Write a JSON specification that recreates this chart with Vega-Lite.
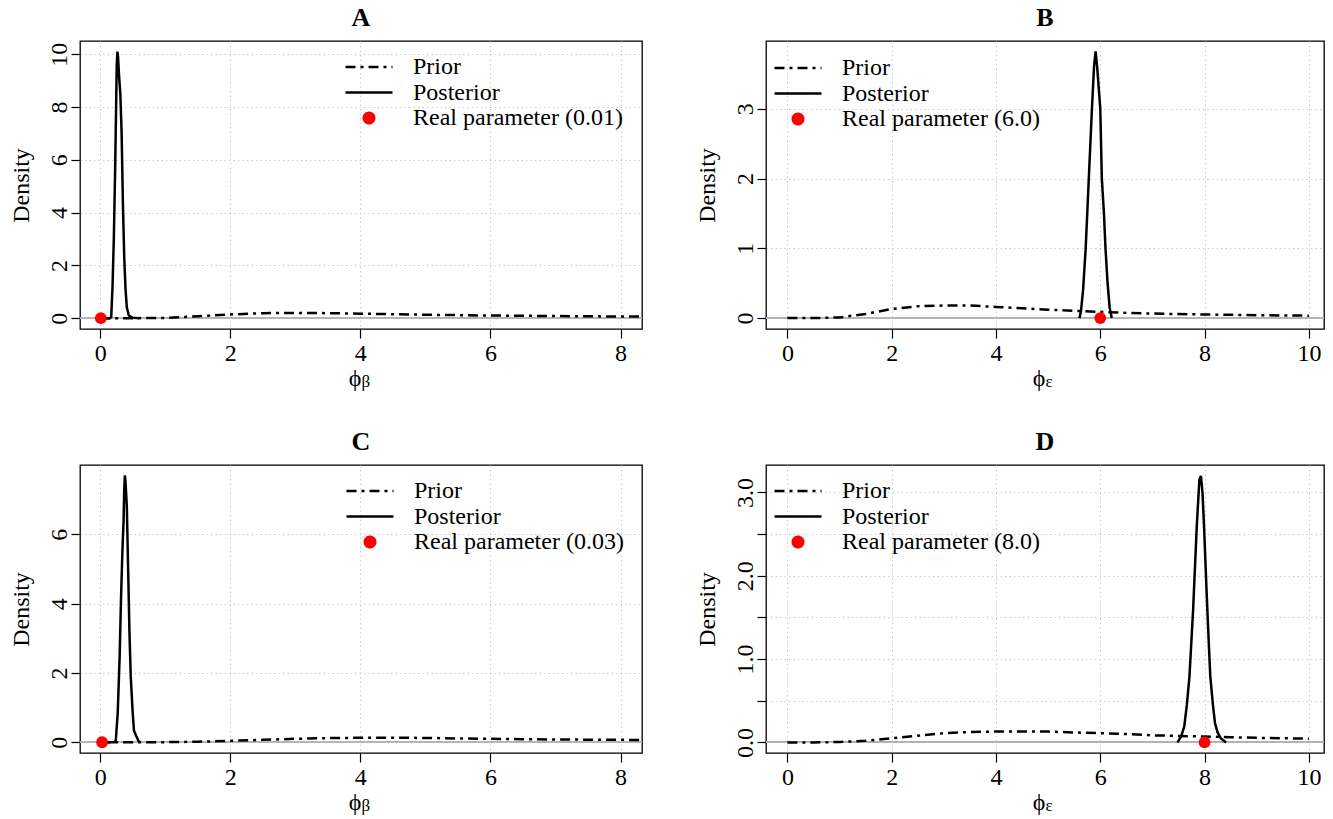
{
  "$schema": "https://vega.github.io/schema/vega-lite/v6.json",
  "padding": {"left": 8, "top": 4, "right": 0, "bottom": 0},
  "background": "white",
  "config": {
    "font": "Liberation Serif",
    "view": {"stroke": "black", "strokeWidth": 1.3},
    "axis": {
      "labelFont": "Liberation Serif", "labelFontSize": 24, "labelColor": "black",
      "titleFont": "Liberation Serif", "titleFontSize": 24, "titleFontWeight": "normal", "titleColor": "black",
      "tickColor": "black", "tickSize": 9, "tickWidth": 1.2, "domain": false,
      "gridColor": "#cccccc", "gridDash": [1.5, 3], "gridWidth": 1, "labelPadding": 3
    },
    "axisY": {"labelAngle": 270, "labelAlign": "center", "labelBaseline": "alphabetic", "labelPadding": 5, "titlePadding": 14},
    "title": {"font": "Liberation Serif", "fontSize": 26, "fontWeight": "bold", "color": "black", "frame": "group", "anchor": "middle", "offset": 10},
    "legend": {"title": null, "orient": "none", "padding": 0, "labelFont": "Liberation Serif", "labelFontSize": 24, "labelColor": "black", "labelOffset": 32, "rowPadding": 1.5, "symbolSize": 100, "labelLimit": 0}
  },
  "datasets": {
    "curves": [
      {"p":"A","s":"Prior","x":0,"y":0},{"p":"A","s":"Prior","x":0.5,"y":0},{"p":"A","s":"Prior","x":1,"y":0.01},{"p":"A","s":"Prior","x":1.5,"y":0.07},{"p":"A","s":"Prior","x":2,"y":0.14},{"p":"A","s":"Prior","x":2.5,"y":0.19},{"p":"A","s":"Prior","x":3,"y":0.2},{"p":"A","s":"Prior","x":3.5,"y":0.19},{"p":"A","s":"Prior","x":4,"y":0.17},{"p":"A","s":"Prior","x":4.5,"y":0.15},{"p":"A","s":"Prior","x":5,"y":0.13},{"p":"A","s":"Prior","x":5.5,"y":0.115},{"p":"A","s":"Prior","x":6,"y":0.1},{"p":"A","s":"Prior","x":6.5,"y":0.09},{"p":"A","s":"Prior","x":7,"y":0.08},{"p":"A","s":"Prior","x":7.5,"y":0.07},{"p":"A","s":"Prior","x":8,"y":0.065},{"p":"A","s":"Prior","x":8.5,"y":0.06},
      {"p":"A","s":"Posterior","x":0.05,"y":0},{"p":"A","s":"Posterior","x":0.15,"y":0},{"p":"A","s":"Posterior","x":0.17,"y":0.05},{"p":"A","s":"Posterior","x":0.19,"y":1.2},{"p":"A","s":"Posterior","x":0.21,"y":3.0},{"p":"A","s":"Posterior","x":0.23,"y":5.6},{"p":"A","s":"Posterior","x":0.245,"y":8.0},{"p":"A","s":"Posterior","x":0.255,"y":9.6},{"p":"A","s":"Posterior","x":0.265,"y":10.1},{"p":"A","s":"Posterior","x":0.275,"y":9.9},{"p":"A","s":"Posterior","x":0.29,"y":9.2},{"p":"A","s":"Posterior","x":0.31,"y":8.5},{"p":"A","s":"Posterior","x":0.33,"y":7.0},{"p":"A","s":"Posterior","x":0.35,"y":4.3},{"p":"A","s":"Posterior","x":0.37,"y":2.3},{"p":"A","s":"Posterior","x":0.39,"y":1.1},{"p":"A","s":"Posterior","x":0.41,"y":0.4},{"p":"A","s":"Posterior","x":0.44,"y":0.1},{"p":"A","s":"Posterior","x":0.5,"y":0.02},{"p":"A","s":"Posterior","x":0.6,"y":0},
      {"p":"A","s":"Real parameter (0.01)","x":0.01,"y":0},
      {"p":"B","s":"Prior","x":0,"y":0},{"p":"B","s":"Prior","x":0.5,"y":0},{"p":"B","s":"Prior","x":1,"y":0.01},{"p":"B","s":"Prior","x":1.5,"y":0.06},{"p":"B","s":"Prior","x":2,"y":0.13},{"p":"B","s":"Prior","x":2.5,"y":0.17},{"p":"B","s":"Prior","x":3,"y":0.18},{"p":"B","s":"Prior","x":3.5,"y":0.18},{"p":"B","s":"Prior","x":4,"y":0.16},{"p":"B","s":"Prior","x":4.5,"y":0.14},{"p":"B","s":"Prior","x":5,"y":0.12},{"p":"B","s":"Prior","x":5.5,"y":0.105},{"p":"B","s":"Prior","x":6,"y":0.09},{"p":"B","s":"Prior","x":6.5,"y":0.075},{"p":"B","s":"Prior","x":7,"y":0.065},{"p":"B","s":"Prior","x":7.5,"y":0.058},{"p":"B","s":"Prior","x":8,"y":0.052},{"p":"B","s":"Prior","x":8.5,"y":0.047},{"p":"B","s":"Prior","x":9,"y":0.042},{"p":"B","s":"Prior","x":9.5,"y":0.038},{"p":"B","s":"Prior","x":10,"y":0.035},
      {"p":"B","s":"Posterior","x":5.6,"y":0},{"p":"B","s":"Posterior","x":5.63,"y":0.1},{"p":"B","s":"Posterior","x":5.67,"y":0.4},{"p":"B","s":"Posterior","x":5.72,"y":1.0},{"p":"B","s":"Posterior","x":5.78,"y":2.0},{"p":"B","s":"Posterior","x":5.84,"y":3.0},{"p":"B","s":"Posterior","x":5.88,"y":3.6},{"p":"B","s":"Posterior","x":5.91,"y":3.82},{"p":"B","s":"Posterior","x":5.94,"y":3.6},{"p":"B","s":"Posterior","x":6.0,"y":3.0},{"p":"B","s":"Posterior","x":6.03,"y":2.0},{"p":"B","s":"Posterior","x":6.07,"y":1.5},{"p":"B","s":"Posterior","x":6.1,"y":1.0},{"p":"B","s":"Posterior","x":6.14,"y":0.5},{"p":"B","s":"Posterior","x":6.18,"y":0.15},{"p":"B","s":"Posterior","x":6.22,"y":0},
      {"p":"B","s":"Real parameter (6.0)","x":6.0,"y":0},
      {"p":"C","s":"Prior","x":0,"y":0},{"p":"C","s":"Prior","x":0.5,"y":0},{"p":"C","s":"Prior","x":1,"y":0.003},{"p":"C","s":"Prior","x":1.5,"y":0.015},{"p":"C","s":"Prior","x":2,"y":0.04},{"p":"C","s":"Prior","x":2.5,"y":0.07},{"p":"C","s":"Prior","x":3,"y":0.1},{"p":"C","s":"Prior","x":3.5,"y":0.12},{"p":"C","s":"Prior","x":4,"y":0.13},{"p":"C","s":"Prior","x":4.5,"y":0.13},{"p":"C","s":"Prior","x":5,"y":0.125},{"p":"C","s":"Prior","x":5.5,"y":0.11},{"p":"C","s":"Prior","x":6,"y":0.1},{"p":"C","s":"Prior","x":6.5,"y":0.09},{"p":"C","s":"Prior","x":7,"y":0.08},{"p":"C","s":"Prior","x":7.5,"y":0.075},{"p":"C","s":"Prior","x":8,"y":0.07},{"p":"C","s":"Prior","x":8.5,"y":0.065},
      {"p":"C","s":"Posterior","x":0.05,"y":0},{"p":"C","s":"Posterior","x":0.22,"y":0},{"p":"C","s":"Posterior","x":0.24,"y":0.05},{"p":"C","s":"Posterior","x":0.27,"y":0.85},{"p":"C","s":"Posterior","x":0.3,"y":2.5},{"p":"C","s":"Posterior","x":0.32,"y":4.1},{"p":"C","s":"Posterior","x":0.34,"y":5.4},{"p":"C","s":"Posterior","x":0.36,"y":6.4},{"p":"C","s":"Posterior","x":0.37,"y":7.3},{"p":"C","s":"Posterior","x":0.38,"y":7.7},{"p":"C","s":"Posterior","x":0.39,"y":7.5},{"p":"C","s":"Posterior","x":0.41,"y":6.8},{"p":"C","s":"Posterior","x":0.43,"y":5.0},{"p":"C","s":"Posterior","x":0.45,"y":3.2},{"p":"C","s":"Posterior","x":0.47,"y":1.9},{"p":"C","s":"Posterior","x":0.5,"y":0.85},{"p":"C","s":"Posterior","x":0.52,"y":0.33},{"p":"C","s":"Posterior","x":0.55,"y":0.2},{"p":"C","s":"Posterior","x":0.59,"y":0.03},{"p":"C","s":"Posterior","x":0.62,"y":0},
      {"p":"C","s":"Real parameter (0.03)","x":0.03,"y":0},
      {"p":"D","s":"Prior","x":0,"y":0},{"p":"D","s":"Prior","x":0.5,"y":0},{"p":"D","s":"Prior","x":1,"y":0.005},{"p":"D","s":"Prior","x":1.5,"y":0.02},{"p":"D","s":"Prior","x":2,"y":0.05},{"p":"D","s":"Prior","x":2.5,"y":0.08},{"p":"D","s":"Prior","x":3,"y":0.11},{"p":"D","s":"Prior","x":3.5,"y":0.125},{"p":"D","s":"Prior","x":4,"y":0.13},{"p":"D","s":"Prior","x":4.5,"y":0.13},{"p":"D","s":"Prior","x":5,"y":0.13},{"p":"D","s":"Prior","x":5.5,"y":0.12},{"p":"D","s":"Prior","x":6,"y":0.11},{"p":"D","s":"Prior","x":6.5,"y":0.1},{"p":"D","s":"Prior","x":7,"y":0.085},{"p":"D","s":"Prior","x":7.5,"y":0.078},{"p":"D","s":"Prior","x":8,"y":0.07},{"p":"D","s":"Prior","x":8.5,"y":0.063},{"p":"D","s":"Prior","x":9,"y":0.055},{"p":"D","s":"Prior","x":9.5,"y":0.05},{"p":"D","s":"Prior","x":10,"y":0.045},
      {"p":"D","s":"Posterior","x":7.48,"y":0},{"p":"D","s":"Posterior","x":7.55,"y":0.07},{"p":"D","s":"Posterior","x":7.61,"y":0.19},{"p":"D","s":"Posterior","x":7.66,"y":0.45},{"p":"D","s":"Posterior","x":7.71,"y":0.79},{"p":"D","s":"Posterior","x":7.78,"y":1.59},{"p":"D","s":"Posterior","x":7.85,"y":2.59},{"p":"D","s":"Posterior","x":7.9,"y":3.15},{"p":"D","s":"Posterior","x":7.93,"y":3.2},{"p":"D","s":"Posterior","x":7.96,"y":3.0},{"p":"D","s":"Posterior","x":7.99,"y":2.59},{"p":"D","s":"Posterior","x":8.04,"y":1.79},{"p":"D","s":"Posterior","x":8.08,"y":1.2},{"p":"D","s":"Posterior","x":8.11,"y":0.79},{"p":"D","s":"Posterior","x":8.16,"y":0.45},{"p":"D","s":"Posterior","x":8.2,"y":0.23},{"p":"D","s":"Posterior","x":8.25,"y":0.12},{"p":"D","s":"Posterior","x":8.31,"y":0.05},{"p":"D","s":"Posterior","x":8.41,"y":0},
      {"p":"D","s":"Real parameter (8.0)","x":8.0,"y":0}
    ]
  },
  "spacing": 37,
  "resolve": {"scale": {"x": "independent", "y": "independent", "color": "independent"}, "axis": {"x": "independent", "y": "independent"}, "legend": {"color": "independent"}},
  "vconcat": [
    {
      "spacing": 50,
      "resolve": {"scale": {"x": "independent", "y": "independent", "color": "independent"}, "axis": {"x": "independent", "y": "independent"}, "legend": {"color": "independent"}},
      "hconcat": [
        {
          "title": {"text": "A"},
          "width": 562, "height": 288,
          "data": {"name": "curves"},
          "transform": [{"filter": "datum.p == 'A'"}],
          "resolve": {"axis": {"x": "independent"}},
          "layer": [
            {"mark": {"type": "rule", "color": "#b5b5b5", "strokeWidth": 1},
             "encoding": {"y": {"datum": 0, "type": "quantitative", "scale": {"domain": [-0.41, 10.5], "nice": false, "zero": false}, "axis": {"title": "Density", "values": [0, 2, 4, 6, 8, 10], "grid": true}}}},
            {"transform": [{"filter": "datum.s == 'Prior'"}],
             "mark": {"type": "line", "strokeWidth": 2.5, "strokeDash": [10, 5, 3, 5], "clip": true},
             "encoding": {
               "x": {"field": "x", "type": "quantitative", "scale": {"domain": [-0.31, 8.33], "nice": false, "zero": false}, "axis": {"orient": "bottom", "title": "ϕ", "titleAlign": "right", "titlePadding": 1, "values": [0, 2, 4, 6, 8], "grid": true}},
               "y": {"field": "y", "type": "quantitative", "axis": {"title": "Density", "values": [0, 2, 4, 6, 8, 10], "grid": true}},
               "color": {"field": "s", "type": "nominal", "scale": {"domain": ["Prior", "Posterior", "Real parameter (0.01)"], "range": ["black", "black", "red"]},
                 "legend": {"legendX": 277, "legendY": 14, "encode": {"symbols": {"update": {
                   "shape": {"signal": "datum.value == 'Prior' || datum.value == 'Posterior' ? 'M-1,0H1' : 'circle'"},
                   "size": {"signal": "datum.value == 'Prior' || datum.value == 'Posterior' ? 2209 : 110"},
                   "stroke": {"signal": "datum.value == 'Prior' || datum.value == 'Posterior' ? 'black' : 'transparent'"},
                   "fill": {"signal": "datum.value == 'Prior' || datum.value == 'Posterior' ? 'transparent' : 'red'"},
                   "strokeWidth": {"value": 2.5},
                   "strokeDash": {"signal": "datum.value == 'Prior' ? [10, 5, 3, 5] : [1, 0]"},
                   "opacity": {"value": 1}}}}}}
             }},
            {"transform": [{"filter": "datum.s == 'Posterior'"}],
             "mark": {"type": "line", "strokeWidth": 2.5, "clip": true},
             "encoding": {
               "x": {"field": "x", "type": "quantitative", "axis": null},
               "y": {"field": "y", "type": "quantitative"},
               "color": {"field": "s", "type": "nominal"}
             }},
            {"transform": [{"filter": "datum.s != 'Prior' && datum.s != 'Posterior'"}],
             "mark": {"type": "point", "filled": true, "size": 140, "opacity": 1, "strokeWidth": 0, "clip": false},
             "encoding": {
               "x": {"field": "x", "type": "quantitative", "axis": {"orient": "bottom", "title": "β", "titleAlign": "left", "titleFontSize": 17, "titlePadding": 44, "labels": false, "ticks": false, "grid": false, "domain": false}},
               "y": {"field": "y", "type": "quantitative"},
               "color": {"field": "s", "type": "nominal"}
             }}
          ]
        },
        {
          "title": {"text": "B"},
          "width": 558, "height": 288,
          "data": {"name": "curves"},
          "transform": [{"filter": "datum.p == 'B'"}],
          "resolve": {"axis": {"x": "independent"}},
          "layer": [
            {"mark": {"type": "rule", "color": "#b5b5b5", "strokeWidth": 1},
             "encoding": {"y": {"datum": 0, "type": "quantitative", "scale": {"domain": [-0.156, 3.97], "nice": false, "zero": false}, "axis": {"title": "Density", "values": [0, 1, 2, 3], "format": "d", "grid": true}}}},
            {"transform": [{"filter": "datum.s == 'Prior'"}],
             "mark": {"type": "line", "strokeWidth": 2.5, "strokeDash": [10, 5, 3, 5], "clip": true},
             "encoding": {
               "x": {"field": "x", "type": "quantitative", "scale": {"domain": [-0.41, 10.29], "nice": false, "zero": false}, "axis": {"orient": "bottom", "title": "ϕ", "titleAlign": "right", "titlePadding": 1, "values": [0, 2, 4, 6, 8, 10], "grid": true}},
               "y": {"field": "y", "type": "quantitative", "axis": {"title": "Density", "values": [0, 1, 2, 3], "format": "d", "grid": true}},
               "color": {"field": "s", "type": "nominal", "scale": {"domain": ["Prior", "Posterior", "Real parameter (6.0)"], "range": ["black", "black", "red"]},
                 "legend": {"legendX": 20, "legendY": 15, "encode": {"symbols": {"update": {
                   "shape": {"signal": "datum.value == 'Prior' || datum.value == 'Posterior' ? 'M-1,0H1' : 'circle'"},
                   "size": {"signal": "datum.value == 'Prior' || datum.value == 'Posterior' ? 2209 : 110"},
                   "stroke": {"signal": "datum.value == 'Prior' || datum.value == 'Posterior' ? 'black' : 'transparent'"},
                   "fill": {"signal": "datum.value == 'Prior' || datum.value == 'Posterior' ? 'transparent' : 'red'"},
                   "strokeWidth": {"value": 2.5},
                   "strokeDash": {"signal": "datum.value == 'Prior' ? [10, 5, 3, 5] : [1, 0]"},
                   "opacity": {"value": 1}}}}}}
             }},
            {"transform": [{"filter": "datum.s == 'Posterior'"}],
             "mark": {"type": "line", "strokeWidth": 2.5, "clip": true},
             "encoding": {
               "x": {"field": "x", "type": "quantitative", "axis": null},
               "y": {"field": "y", "type": "quantitative"},
               "color": {"field": "s", "type": "nominal"}
             }},
            {"transform": [{"filter": "datum.s != 'Prior' && datum.s != 'Posterior'"}],
             "mark": {"type": "point", "filled": true, "size": 140, "opacity": 1, "strokeWidth": 0, "clip": false},
             "encoding": {
               "x": {"field": "x", "type": "quantitative", "axis": {"orient": "bottom", "title": "ε", "titleAlign": "left", "titleFontSize": 17, "titlePadding": 44, "labels": false, "ticks": false, "grid": false, "domain": false}},
               "y": {"field": "y", "type": "quantitative"},
               "color": {"field": "s", "type": "nominal"}
             }}
          ]
        }
      ]
    },
    {
      "spacing": 50,
      "resolve": {"scale": {"x": "independent", "y": "independent", "color": "independent"}, "axis": {"x": "independent", "y": "independent"}, "legend": {"color": "independent"}},
      "hconcat": [
        {
          "title": {"text": "C"},
          "width": 562, "height": 288,
          "data": {"name": "curves"},
          "transform": [{"filter": "datum.p == 'C'"}],
          "resolve": {"axis": {"x": "independent"}},
          "layer": [
            {"mark": {"type": "rule", "color": "#b5b5b5", "strokeWidth": 1},
             "encoding": {"y": {"datum": 0, "type": "quantitative", "scale": {"domain": [-0.31, 8.0], "nice": false, "zero": false}, "axis": {"title": "Density", "values": [0, 2, 4, 6], "format": "d", "grid": true}}}},
            {"transform": [{"filter": "datum.s == 'Prior'"}],
             "mark": {"type": "line", "strokeWidth": 2.5, "strokeDash": [10, 5, 3, 5], "clip": true},
             "encoding": {
               "x": {"field": "x", "type": "quantitative", "scale": {"domain": [-0.31, 8.33], "nice": false, "zero": false}, "axis": {"orient": "bottom", "title": "ϕ", "titleAlign": "right", "titlePadding": 1, "values": [0, 2, 4, 6, 8], "grid": true}},
               "y": {"field": "y", "type": "quantitative", "axis": {"title": "Density", "values": [0, 2, 4, 6], "format": "d", "grid": true}},
               "color": {"field": "s", "type": "nominal", "scale": {"domain": ["Prior", "Posterior", "Real parameter (0.03)"], "range": ["black", "black", "red"]},
                 "legend": {"legendX": 278, "legendY": 14, "encode": {"symbols": {"update": {
                   "shape": {"signal": "datum.value == 'Prior' || datum.value == 'Posterior' ? 'M-1,0H1' : 'circle'"},
                   "size": {"signal": "datum.value == 'Prior' || datum.value == 'Posterior' ? 2209 : 110"},
                   "stroke": {"signal": "datum.value == 'Prior' || datum.value == 'Posterior' ? 'black' : 'transparent'"},
                   "fill": {"signal": "datum.value == 'Prior' || datum.value == 'Posterior' ? 'transparent' : 'red'"},
                   "strokeWidth": {"value": 2.5},
                   "strokeDash": {"signal": "datum.value == 'Prior' ? [10, 5, 3, 5] : [1, 0]"},
                   "opacity": {"value": 1}}}}}}
             }},
            {"transform": [{"filter": "datum.s == 'Posterior'"}],
             "mark": {"type": "line", "strokeWidth": 2.5, "clip": true},
             "encoding": {
               "x": {"field": "x", "type": "quantitative", "axis": null},
               "y": {"field": "y", "type": "quantitative"},
               "color": {"field": "s", "type": "nominal"}
             }},
            {"transform": [{"filter": "datum.s != 'Prior' && datum.s != 'Posterior'"}],
             "mark": {"type": "point", "filled": true, "size": 140, "opacity": 1, "strokeWidth": 0, "clip": false},
             "encoding": {
               "x": {"field": "x", "type": "quantitative", "axis": {"orient": "bottom", "title": "β", "titleAlign": "left", "titleFontSize": 17, "titlePadding": 44, "labels": false, "ticks": false, "grid": false, "domain": false}},
               "y": {"field": "y", "type": "quantitative"},
               "color": {"field": "s", "type": "nominal"}
             }}
          ]
        },
        {
          "title": {"text": "D"},
          "width": 558, "height": 288,
          "data": {"name": "curves"},
          "transform": [{"filter": "datum.p == 'D'"}],
          "resolve": {"axis": {"x": "independent"}},
          "layer": [
            {"mark": {"type": "rule", "color": "#b5b5b5", "strokeWidth": 1},
             "encoding": {"y": {"datum": 0, "type": "quantitative", "scale": {"domain": [-0.127, 3.33], "nice": false, "zero": false}, "axis": {"title": "Density", "values": [0, 0.5, 1, 1.5, 2, 2.5, 3], "format": ".1f", "labelExpr": "datum.value % 1 == 0 ? datum.label : ''", "grid": true}}}},
            {"transform": [{"filter": "datum.s == 'Prior'"}],
             "mark": {"type": "line", "strokeWidth": 2.5, "strokeDash": [10, 5, 3, 5], "clip": true},
             "encoding": {
               "x": {"field": "x", "type": "quantitative", "scale": {"domain": [-0.41, 10.29], "nice": false, "zero": false}, "axis": {"orient": "bottom", "title": "ϕ", "titleAlign": "right", "titlePadding": 1, "values": [0, 2, 4, 6, 8, 10], "grid": true}},
               "y": {"field": "y", "type": "quantitative", "axis": {"title": "Density", "values": [0, 0.5, 1, 1.5, 2, 2.5, 3], "format": ".1f", "labelExpr": "datum.value % 1 == 0 ? datum.label : ''", "grid": true}},
               "color": {"field": "s", "type": "nominal", "scale": {"domain": ["Prior", "Posterior", "Real parameter (8.0)"], "range": ["black", "black", "red"]},
                 "legend": {"legendX": 20, "legendY": 14, "encode": {"symbols": {"update": {
                   "shape": {"signal": "datum.value == 'Prior' || datum.value == 'Posterior' ? 'M-1,0H1' : 'circle'"},
                   "size": {"signal": "datum.value == 'Prior' || datum.value == 'Posterior' ? 2209 : 110"},
                   "stroke": {"signal": "datum.value == 'Prior' || datum.value == 'Posterior' ? 'black' : 'transparent'"},
                   "fill": {"signal": "datum.value == 'Prior' || datum.value == 'Posterior' ? 'transparent' : 'red'"},
                   "strokeWidth": {"value": 2.5},
                   "strokeDash": {"signal": "datum.value == 'Prior' ? [10, 5, 3, 5] : [1, 0]"},
                   "opacity": {"value": 1}}}}}}
             }},
            {"transform": [{"filter": "datum.s == 'Posterior'"}],
             "mark": {"type": "line", "strokeWidth": 2.5, "clip": true},
             "encoding": {
               "x": {"field": "x", "type": "quantitative", "axis": null},
               "y": {"field": "y", "type": "quantitative"},
               "color": {"field": "s", "type": "nominal"}
             }},
            {"transform": [{"filter": "datum.s != 'Prior' && datum.s != 'Posterior'"}],
             "mark": {"type": "point", "filled": true, "size": 140, "opacity": 1, "strokeWidth": 0, "clip": false},
             "encoding": {
               "x": {"field": "x", "type": "quantitative", "axis": {"orient": "bottom", "title": "ε", "titleAlign": "left", "titleFontSize": 17, "titlePadding": 44, "labels": false, "ticks": false, "grid": false, "domain": false}},
               "y": {"field": "y", "type": "quantitative"},
               "color": {"field": "s", "type": "nominal"}
             }}
          ]
        }
      ]
    }
  ]
}
